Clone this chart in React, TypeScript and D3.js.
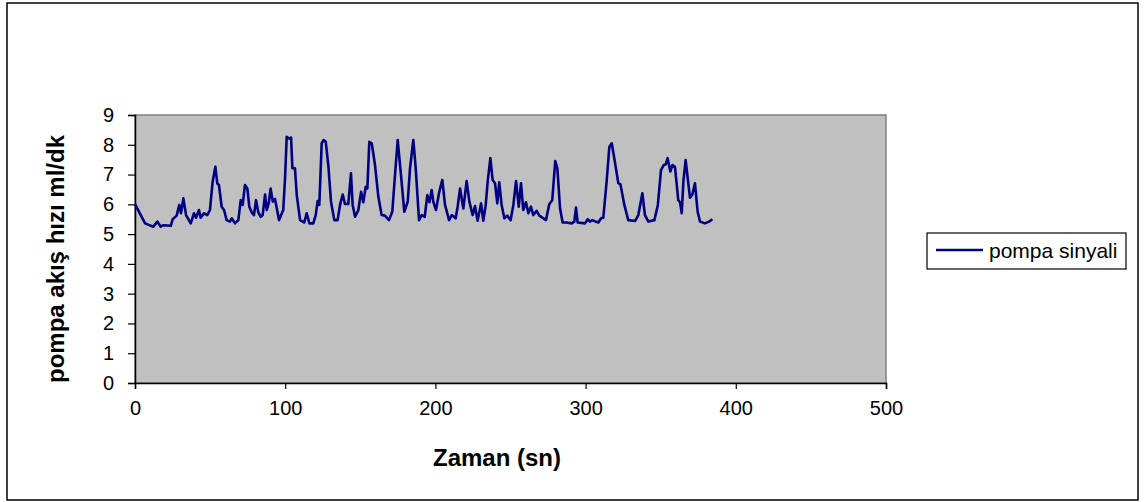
import * as d3 from 'd3';
import React, { useRef, useEffect } from 'react';

// pompa akış hızı (ml/dk) vs zaman (sn)
const zaman = [
  0, 6.7, 12.2, 14.9, 17.1, 18.9, 23.8, 25.1, 27.7, 29.5, 30.6, 32.2, 34, 37.1, 39.3, 40.6,
  42.6, 43.7, 45.9, 48.1, 49.9, 51.7, 53.5, 54.8, 55.9, 57.7, 59.3, 61, 63.2, 64.4, 66.6,
  68.8, 70.4, 71.7, 73.2, 74.8, 76.1, 77.7, 79.2, 80.6, 82.1, 83.7, 85, 86.6, 87.7, 89,
  90.3, 91.7, 93.2, 95.9, 98.7, 99.9, 101, 102.5, 103.9, 104.8, 106.5, 107.7, 109.9, 112.7,
  114.3, 116.1, 118.7, 120.3, 121.6, 122.7, 124.3, 125.6, 127, 128.7, 130.5, 132.7, 134.9,
  136.5, 138.3, 139.8, 142, 143.8, 144.9, 146.5, 148.7, 150.5, 152, 153.6, 154.7, 156,
  157.6, 159.8, 162, 164.2, 166.4, 169.1, 171.3, 173.1, 174.9, 177.1, 179.3, 181.6, 183.1,
  185.3, 186.9, 189.1, 190.9, 192.9, 194.6, 196, 197.5, 198.6, 200.4, 202.6, 204.6, 206.4,
  209.1, 210.9, 213.5, 214.8, 216.4, 218.6, 220.8, 222.6, 224.8, 226.4, 228.1, 230.4,
  231.9, 233.5, 234.8, 236.6, 238.1, 239.7, 241.2, 242.5, 244.1, 245.9, 247.9, 250.1,
  251.9, 253.7, 255.5, 257, 258.5, 260.3, 261.9, 263.6, 265.2, 267.4, 269.2, 271.9, 273.6,
  275.8, 277.8, 279.8, 281.2, 283, 284.7, 287.4, 290.7, 292.5, 293.6, 294.7, 299.6, 301.4,
  302.9, 304.5, 306.7, 308.5, 310.3, 311.8, 314, 315.8, 317.4, 319.1, 321.8, 323.2, 325.8,
  328.4, 332.9, 335.1, 337.8, 339.5, 341.8, 345.8, 348.1, 350.2, 352, 353.3, 354.6, 356.4,
  357.8, 359.5, 361.7, 362.9, 364, 365.1, 366.6, 368, 369.5, 371.1, 372.8, 374.6, 376.2,
  379.5, 382.2, 384.4
];
const akis = [
  6.01, 5.36, 5.25, 5.42, 5.25, 5.3, 5.28, 5.5, 5.62, 5.98, 5.7, 6.2, 5.64, 5.36, 5.7, 5.55,
  5.81, 5.55, 5.7, 5.64, 5.81, 6.76, 7.26, 6.7, 6.65, 5.92, 5.81, 5.47, 5.42, 5.53, 5.36,
  5.47, 6.14, 5.98, 6.65, 6.53, 5.92, 5.73, 5.64, 6.14, 5.73, 5.58, 5.64, 6.33, 5.81, 6.03,
  6.53, 6.09, 6.18, 5.47, 5.81, 6.87, 8.27, 8.21, 8.24, 7.21, 7.21, 6.31, 5.47, 5.39,
  5.7, 5.36, 5.36, 5.64, 6.11, 5.98, 8.05, 8.16, 8.1, 7.32, 6.09, 5.47, 5.47,
  5.98, 6.33, 6.01, 6.01, 7.04, 5.98, 5.58, 5.81, 6.42, 6.07, 6.59, 6.53, 8.1,
  8.05, 7.32, 6.26, 5.64, 5.62, 5.47, 5.75, 6.98, 8.16, 6.98, 5.75, 6.09, 7.21,
  8.16, 7.21, 5.47, 5.64, 5.58, 6.31, 6.07, 6.48, 6.09, 5.81, 6.42, 6.82, 5.98,
  5.47, 5.64, 5.53, 5.92, 6.53, 5.86, 6.78, 6.09, 5.64, 5.94, 5.45, 6.03,
  5.45, 5.98, 6.76, 7.55, 6.82, 6.71, 6.03, 6.74, 5.98, 5.53, 5.62, 5.47,
  5.98, 6.78, 5.92, 6.71, 5.81, 6.07, 5.7, 5.92, 5.64, 5.78, 5.62, 5.53, 5.47,
  6.0, 6.14, 7.45, 7.21, 5.86, 5.39, 5.39, 5.36, 5.42, 5.89, 5.39, 5.36, 5.5,
  5.42, 5.47, 5.42, 5.39, 5.53, 5.55, 6.76, 7.93, 8.05, 7.55, 6.71, 6.67, 5.98,
  5.47, 5.44, 5.64, 6.37, 5.64, 5.42, 5.47, 5.98, 7.15, 7.32, 7.34, 7.55, 7.1,
  7.32, 7.26, 6.14, 6.07, 5.7, 6.76, 7.49, 6.87, 6.22, 6.33, 6.71, 5.75, 5.42,
  5.36, 5.42, 5.5
];
const xTicks = [0, 100, 200, 300, 400, 500];
const yTicks = [0, 1, 2, 3, 4, 5, 6, 7, 8, 9];
const seriesName = 'pompa sinyali';
const xTitle = 'Zaman (sn)';
const yTitle = 'pompa akış hızı ml/dk';

const width = 1147;
const height = 502;
const plot = { left: 135, right: 886, top: 115, bottom: 383 };
const font = '"Liberation Sans", Arial, sans-serif';

const App = () => {
  const svgRef = useRef<SVGSVGElement>(null);

  useEffect(() => {
    const svg = d3.select(svgRef.current);
    svg.selectAll('*').remove();

    const x = d3.scaleLinear().domain([0, 500]).range([plot.left, plot.right]);
    const y = d3.scaleLinear().domain([0, 9]).range([plot.bottom, plot.top]);

    // outer chart frame
    svg.append('rect')
      .attr('x', 7).attr('y', 3)
      .attr('width', 1131).attr('height', 497)
      .attr('fill', '#fff')
      .attr('stroke', '#000')
      .attr('stroke-width', 1.5);

    // plot area
    svg.append('rect')
      .attr('x', plot.left).attr('y', plot.top)
      .attr('width', plot.right - plot.left).attr('height', plot.bottom - plot.top)
      .attr('fill', '#c0c0c0')
      .attr('stroke', '#808080')
      .attr('stroke-width', 1.5);

    const xAxis = svg.append('g')
      .attr('transform', `translate(0,${plot.bottom})`)
      .call(d3.axisBottom(x).tickValues(xTicks).tickSizeOuter(0).tickSize(6).tickPadding(12));
    const yAxis = svg.append('g')
      .attr('transform', `translate(${plot.left},0)`)
      .call(d3.axisLeft(y).tickValues(yTicks).tickSizeOuter(0).tickSize(7).tickPadding(14));

    [xAxis, yAxis].forEach(g => {
      g.select('.domain').attr('stroke', '#000').attr('stroke-width', 1.5);
      g.selectAll('.tick line').attr('stroke', '#000').attr('stroke-width', 1.2);
      g.selectAll('.tick text')
        .attr('fill', '#000')
        .style('font-family', font)
        .style('font-size', '20px');
    });

    const line = d3.line<number>()
      .x(d => x(d))
      .y((_, i) => y(akis[i]));

    svg.append('path')
      .attr('d', line(zaman))
      .attr('fill', 'none')
      .attr('stroke', '#000080')
      .attr('stroke-width', 2.6)
      .attr('stroke-linejoin', 'round');

    // axis titles
    svg.append('text')
      .attr('x', 497)
      .attr('y', 466)
      .attr('text-anchor', 'middle')
      .style('font-family', font)
      .style('font-size', '24px')
      .style('font-weight', 'bold')
      .text(xTitle);

    svg.append('text')
      .attr('transform', `translate(64,259) rotate(-90)`)
      .attr('text-anchor', 'middle')
      .style('font-family', font)
      .style('font-size', '24px')
      .style('font-weight', 'bold')
      .text(yTitle);

    // legend
    const legend = svg.append('g').attr('transform', 'translate(927,233)');
    legend.append('rect')
      .attr('width', 199).attr('height', 36)
      .attr('fill', '#fff')
      .attr('stroke', '#000')
      .attr('stroke-width', 1.2);
    legend.append('line')
      .attr('x1', 9).attr('x2', 56)
      .attr('y1', 17).attr('y2', 17)
      .attr('stroke', '#000080')
      .attr('stroke-width', 2.6);
    legend.append('text')
      .attr('x', 62).attr('y', 25)
      .style('font-family', font)
      .style('font-size', '21px')
      .text(seriesName);
  }, []);

  return (
    <svg
      ref={svgRef}
      width={width}
      height={height}
      style={{ position: 'absolute', left: 0, top: 0, background: '#fff' }}
    />
  );
};

export default App;
